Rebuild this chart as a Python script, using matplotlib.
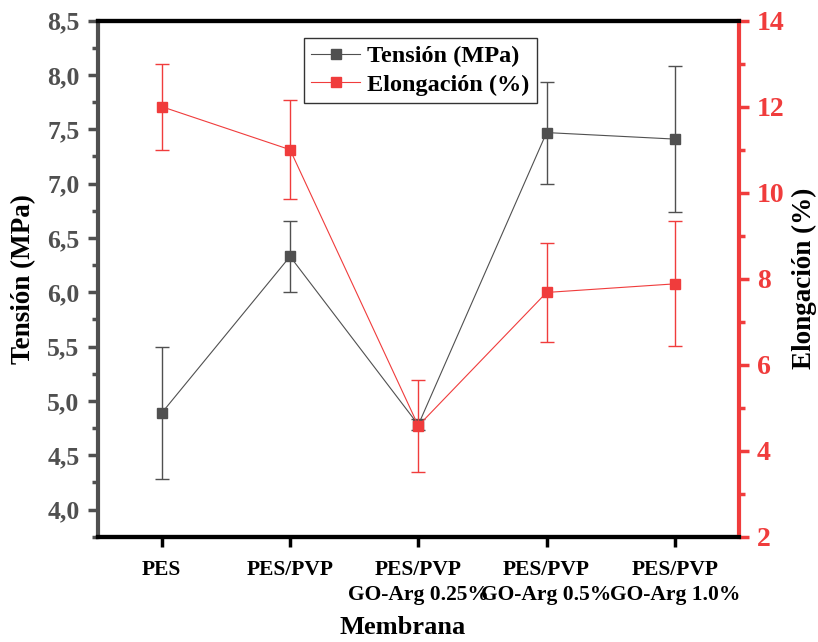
import numpy as np
import matplotlib.pyplot as plt
from matplotlib.ticker import MultipleLocator, FuncFormatter
from matplotlib.lines import Line2D

plt.rcParams['font.family'] = 'Liberation Serif'
plt.rcParams['font.weight'] = 'bold'

membranas = ['PES', 'PES/PVP', 'PES/PVP\nGO-Arg 0.25%', 'PES/PVP\nGO-Arg 0.5%', 'PES/PVP\nGO-Arg 1.0%']
tension = [4.89, 6.33, 4.78, 7.47, 7.41]
tension_err = [0.61, 0.33, 0.05, 0.47, 0.67]
elong = [12.0, 11.0, 4.58, 7.68, 7.88]
elong_err = [1.0, 1.15, 1.07, 1.15, 1.45]

gris = '#505050'
rojo = '#f03c3c'

x = np.arange(len(membranas))
fig = plt.figure(figsize=(8.18, 6.42), dpi=100)
ax = fig.add_axes([0.1194, 0.164, 0.7840, 0.8038])
ax2 = ax.twinx()

ax.errorbar(x, tension, yerr=tension_err, color=gris, marker='s', ms=7, lw=0.8,
            elinewidth=1, capsize=5, capthick=1, zorder=3)
ax2.errorbar(x, elong, yerr=elong_err, color=rojo, marker='s', ms=7, lw=0.8,
             elinewidth=1, capsize=5, capthick=1, zorder=3)

ax.set_xlim(-0.5, 4.5)
ax.set_ylim(3.75, 8.5)
ax2.set_ylim(2, 14)

ax.yaxis.set_major_locator(MultipleLocator(0.5))
ax.yaxis.set_minor_locator(MultipleLocator(0.25))
ax.yaxis.set_major_formatter(FuncFormatter(lambda v, p: f'{v:.1f}'.replace('.', ',')))
ax2.yaxis.set_major_locator(MultipleLocator(2))
ax2.yaxis.set_minor_locator(MultipleLocator(1))

ax.set_xticks(x)
ax.set_xticklabels(membranas, fontsize=15.5, linespacing=1.3)
ax.tick_params(axis='x', which='major', direction='out', length=7, width=2.5, pad=10)
ax.tick_params(axis='y', which='major', direction='out', length=7, width=2.5,
               color=gris, labelcolor=gris, labelsize=18.5, pad=6)
ax.tick_params(axis='y', which='minor', direction='out', length=4, width=2.5, color=gris)
ax2.tick_params(axis='y', which='major', direction='out', length=7, width=2.5,
                color=rojo, labelcolor=rojo, labelsize=20, pad=6)
ax2.tick_params(axis='y', which='minor', direction='out', length=4, width=2.5, color=rojo)

for a in (ax, ax2):
    a.spines['top'].set_linewidth(3)
    a.spines['bottom'].set_linewidth(3)
ax.spines['left'].set_linewidth(3)
ax.spines['left'].set_color(gris)
ax2.spines['left'].set_visible(False)
ax2.spines['right'].set_linewidth(3)
ax2.spines['right'].set_color(rojo)
ax.spines['right'].set_visible(False)

ax.set_ylabel('Tensión (MPa)', fontsize=19.5, fontweight='bold')
ax.yaxis.set_label_coords(-0.096, 0.5)
ax2.set_ylabel('Elongación (%)', fontsize=19.5, fontweight='bold')
ax2.yaxis.set_label_coords(1.083, 0.5)
ax.set_xlabel('Membrana', fontsize=19, fontweight='bold')
ax.xaxis.set_label_coords(0.475, -0.153)

handles = [Line2D([], [], color=gris, marker='s', ms=7, lw=0.8),
           Line2D([], [], color=rojo, marker='s', ms=7, lw=0.8)]
leg = ax2.legend(handles, ['Tensión (MPa)', 'Elongación (%)'], loc='upper left',
                 bbox_to_anchor=(0.322, 0.966), borderaxespad=0, fancybox=False,
                 edgecolor='black', prop={'size': 17.5, 'weight': 'bold'},
                 handlelength=2.0, handletextpad=0.3, borderpad=0.3, labelspacing=0.25)
leg.get_frame().set_linewidth(1)

fig.savefig('out.png', dpi=100)
